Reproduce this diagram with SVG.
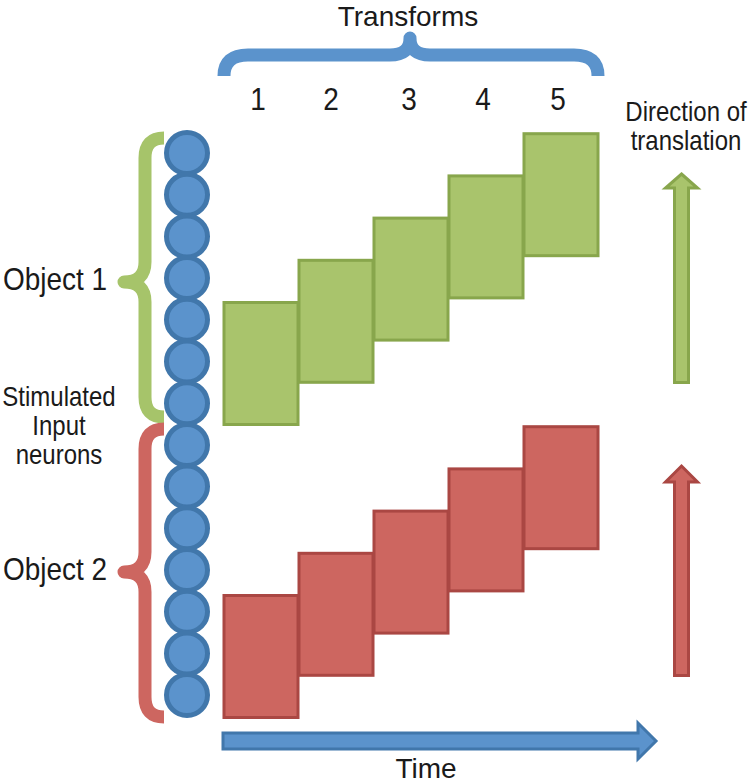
<svg xmlns="http://www.w3.org/2000/svg" width="750" height="783" viewBox="0 0 750 783">
  <style>
    text { font-family: "Liberation Sans", Arial, sans-serif; fill: #1a1a1a; text-anchor: middle; }
    .big { font-size: 28px; }
    .mid { font-size: 24px; }
    .brace { fill: none; stroke-width: 13; stroke-linejoin: round; stroke-linecap: butt; }
    .neuron { fill: #5b93cc; stroke: #4177ab; stroke-width: 5; }
    .g { fill: #a9c46c; stroke: #88a64c; stroke-width: 3; }
    .r { fill: #cd6660; stroke: #aa4743; stroke-width: 3; }
    .b { fill: #5b93cc; stroke: #4177ab; stroke-width: 3; }
  </style>

  <g id="transforms-header">
    <text class="big" x="408" y="26">Transforms</text>
    <path class="brace" stroke="#5b93cc" stroke-width="15" d="M224,76 Q224,55 248,55 L390,55 Q410,55 410,38 Q410,55 430,55 L574,55 Q598,55 598,76"/>
    <text class="big" transform="translate(258,110) scale(1,1.15)">1</text>
    <text class="big" transform="translate(331,110) scale(1,1.15)">2</text>
    <text class="big" transform="translate(409,110) scale(1,1.15)">3</text>
    <text class="big" transform="translate(483,110) scale(1,1.15)">4</text>
    <text class="big" transform="translate(558,110) scale(1,1.15)">5</text>
  </g>

  <g id="object1-label">
    <text class="big" transform="translate(55,290) scale(1,1.15)">Object 1</text>
    <path class="brace" stroke="#a6c46a" d="M164,138 Q145,138 145,158 L145,262 Q145,282 124,282 Q145,282 145,302 L145,397 Q145,417 164,417"/>
  </g>

  <g id="object2-label">
    <text class="big" transform="translate(55,580) scale(1,1.15)">Object 2</text>
    <path class="brace" stroke="#cd6660" d="M164,429 Q145,429 145,449 L145,552 Q145,572 124,572 Q145,572 145,592 L145,697 Q145,717 164,717"/>
  </g>

  <g id="stimulated-label">
    <text class="mid" transform="translate(59,406) scale(1,1.15)">Stimulated</text>
    <text class="mid" transform="translate(59,435) scale(1,1.15)">Input</text>
    <text class="mid" transform="translate(59,464) scale(1,1.15)">neurons</text>
  </g>

  <g id="neurons">
    <circle class="neuron" cx="187" cy="153" r="20.5"/>
    <circle class="neuron" cx="187" cy="194.7" r="20.5"/>
    <circle class="neuron" cx="187" cy="236.4" r="20.5"/>
    <circle class="neuron" cx="187" cy="278.1" r="20.5"/>
    <circle class="neuron" cx="187" cy="319.8" r="20.5"/>
    <circle class="neuron" cx="187" cy="361.5" r="20.5"/>
    <circle class="neuron" cx="187" cy="403.2" r="20.5"/>
    <circle class="neuron" cx="187" cy="444.9" r="20.5"/>
    <circle class="neuron" cx="187" cy="486.6" r="20.5"/>
    <circle class="neuron" cx="187" cy="528.3" r="20.5"/>
    <circle class="neuron" cx="187" cy="570" r="20.5"/>
    <circle class="neuron" cx="187" cy="611.7" r="20.5"/>
    <circle class="neuron" cx="187" cy="653.4" r="20.5"/>
    <circle class="neuron" cx="187" cy="695.1" r="20.5"/>
  </g>

  <g id="object1-transforms">
    <rect class="g" x="224" y="302.5" width="74" height="122"/>
    <rect class="g" x="299" y="260.3" width="74" height="122"/>
    <rect class="g" x="374" y="218.1" width="74" height="122"/>
    <rect class="g" x="449" y="175.9" width="74" height="122"/>
    <rect class="g" x="524" y="133.7" width="74" height="122"/>
  </g>

  <g id="object2-transforms">
    <rect class="r" x="224" y="595.5" width="74" height="122"/>
    <rect class="r" x="299" y="553.3" width="74" height="122"/>
    <rect class="r" x="374" y="511.1" width="74" height="122"/>
    <rect class="r" x="449" y="468.9" width="74" height="122"/>
    <rect class="r" x="524" y="426.7" width="74" height="122"/>
  </g>

  <g id="direction-label">
    <text class="mid" transform="translate(686,121) scale(1,1.15)">Direction of</text>
    <text class="mid" transform="translate(686,150) scale(1,1.15)">translation</text>
  </g>

  <g id="arrows">
    <path class="g" d="M681.5,174 L697.5,188 L688.5,188 L688.5,382.5 L674.5,382.5 L674.5,188 L665.5,188 Z"/>
    <path class="r" d="M681.5,466 L697.5,482 L688.5,482 L688.5,675.5 L674.5,675.5 L674.5,482 L665.5,482 Z"/>
    <path class="b" d="M223,733 L638,733 L638,723 L656,741 L638,759 L638,749 L223,749 Z"/>
  </g>

  <g id="time-label">
    <text class="big" x="426" y="778">Time</text>
  </g>
</svg>
